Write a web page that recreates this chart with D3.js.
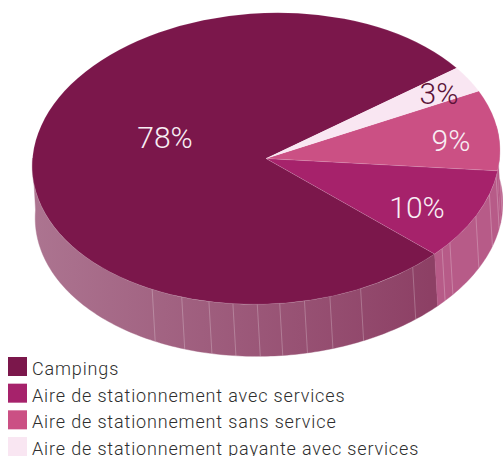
<!DOCTYPE html>
<html><head><meta charset="utf-8">
<script src="https://cdn.jsdelivr.net/npm/d3@7"></script>
<style>html,body{margin:0;padding:0;background:#fff;overflow:hidden}svg{display:block}</style>
</head><body><svg id="c" width="503" height="456"></svg>
<script>
const categories = ["Campings","Aire de stationnement avec services","Aire de stationnement sans service","Aire de stationnement payante avec services"];
const values = [78,10,9,3];
const labels = ["78%","10%","9%","3%"];
const colors = ["#7b174b","#a6226b","#cb5084","#f9e6f2"];
const labelColors = ["#f8eef4","#f8eef4","#f8eef4","#5b1238"];
const sideSeamAngles = [211,203,196,190,184,178.5,172.4,166,158,143,133,130,118,109,102,96];

const svg = d3.select("#c");
const cx=266, cy=158.5, rx=234, ry=145.5, tilt=-3, depth=52, shift=3;
const rad=Math.PI/180;
const startDeg=56.5;
const pie=d3.pie().sort(null).value(d=>d).startAngle(startDeg*rad).endAngle((startDeg-360)*rad);
const arcs=pie(values);
const pt=(a,dx=0,dy=0)=>{
  const x=rx*Math.sin(a), y=-ry*Math.cos(a), t=tilt*rad;
  return [cx+dx+x*Math.cos(t)-y*Math.sin(t), cy+dy+x*Math.sin(t)+y*Math.cos(t)];
};
const line=d3.line();
const defs=svg.append("defs");
const g=defs.append("linearGradient").attr("id","sideG").attr("gradientUnits","userSpaceOnUse")
 .attr("x1",35).attr("x2",430).attr("y1",0).attr("y2",0);
g.append("stop").attr("offset",0).attr("stop-color","#ac7490");
g.append("stop").attr("offset",1).attr("stop-color","#8d4065");

function wall(a0,a1,fill){
  const lo=Math.min(a0,a1),hi=Math.max(a0,a1),n=Math.max(2,Math.ceil((hi-lo)/rad));
  const s=d3.range(n+1).map(k=>lo+(hi-lo)*k/n);
  const p=s.map(a=>pt(a)).concat(s.slice().reverse().map(a=>pt(a,shift,depth)));
  svg.append("path").attr("d",line(p)+"Z").attr("fill",fill).attr("stroke",fill).attr("stroke-width",.4);
}
// visible wall runs round the lower half of the ellipse
wall(arcs[0].endAngle,-85*rad,"url(#sideG)");
wall(arcs[1].endAngle,arcs[1].startAngle,"#b75b88");
wall(-278*rad,arcs[2].startAngle,"#b75b88");

svg.append("g").selectAll("path").data(sideSeamAngles.map(d=>d*rad)).join("path")
 .attr("d",a=>line([pt(a),pt(a,shift,depth)])).attr("stroke","#fff").attr("stroke-opacity",.3).attr("stroke-width",.8).attr("fill","none");

const arc=d3.arc().innerRadius(0).outerRadius(1);
const topFace=svg.append("g").attr("transform",`translate(${cx},${cy}) rotate(${tilt}) scale(${rx},${ry})`);
topFace.selectAll("path").data(arcs).join("path").attr("d",arc).attr("fill",(d,i)=>colors[i])
 .attr("stroke","#fff").attr("stroke-opacity",.2).attr("stroke-width",.5).attr("vector-effect","non-scaling-stroke");

const labelPos=[[165,137],[417,207],[451,140],[439,93]];
svg.append("g").selectAll("text").data(labels).join("text")
 .attr("x",(d,i)=>labelPos[i][0]).attr("y",(d,i)=>labelPos[i][1]).attr("dy","0.35em")
 .attr("text-anchor","middle").attr("font-family","Roboto, sans-serif").attr("font-weight",300)
 .attr("font-size",30).attr("fill",(d,i)=>labelColors[i]).text(d=>d);

const legendY=d3.scalePoint().domain(categories).range([367,447]);
const lg=svg.append("g").selectAll("g").data(categories).join("g");
lg.append("rect").attr("x",8).attr("y",d=>legendY(d)-10).attr("width",19).attr("height",19).attr("fill",(d,i)=>colors[i]);
lg.append("text").attr("x",32).attr("y",d=>legendY(d)+8).attr("font-family","Roboto, sans-serif").attr("font-weight",300).attr("font-size",18).attr("fill","#2e2e2e").attr("letter-spacing",0.85).text(d=>d);
</script></body></html>
